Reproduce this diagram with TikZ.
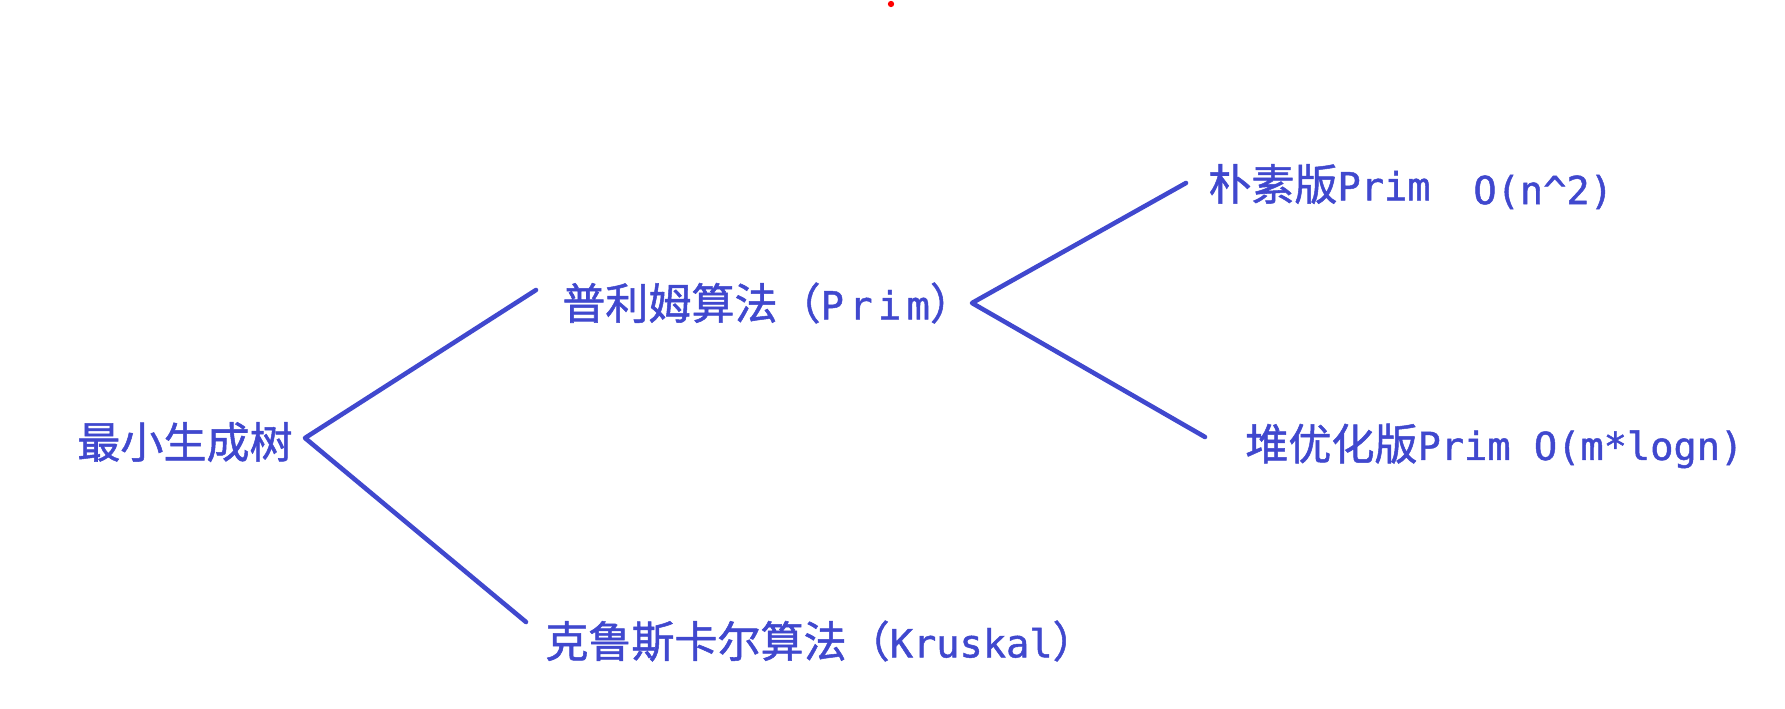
\documentclass[tikz,border=0pt]{standalone}
\usepackage{fontspec}
\usetikzlibrary{positioning}
\newfontfamily\zhfont[FakeBold=1.2]{Noto Sans CJK SC}
\newfontfamily\mstmono[FakeBold=1.2]{DejaVu Sans Mono}
\newfontfamily\mstmonowide[LetterSpace=14,FakeBold=1.2]{DejaVu Sans Mono}
\definecolor{mstblue}{RGB}{64,72,206}
\newcommand{\mstlat}[1]{{\mstmono\fontsize{22}{26}\selectfont #1}}
\newcommand{\mstlatwide}[1]{{\mstmonowide\fontsize{22}{26}\selectfont #1}}
\tikzset{
  mstlabel/.style={
    anchor=west, inner sep=0pt, text=mstblue,
    font=\zhfont\fontsize{24.5}{28}\selectfont
  },
  mstedge/.style={draw=mstblue, line width=2.6pt, line cap=round, line join=round},
  mstdot/.style={fill=red}
}
\begin{document}
\begin{tikzpicture}[x=0.02cm,y=-0.02cm]
  \useasboundingbox (0,0) rectangle (1785,709);
  \fill[mstdot] (891,4) circle[radius=1.8pt];

  % root
  \node[mstlabel] (mst) at (77,442) {最小生成树};
  \coordinate (mstfork) at (305,438);

  % first level
  \node[mstlabel] (prim) at (562,303) {普利姆算法（\mstlatwide{Prim}）};
  \node[mstlabel] (kruskal) at (545,641) {克鲁斯卡尔算法（\mstlat{Kruskal}）};
  \coordinate (primin) at (536,290);
  \coordinate (kruskalin) at (526,622);
  \coordinate (primfork) at (972,303);

  % second level
  \node[mstlabel] (naive) at (1208,184) {朴素版\mstlat{Prim}};
  \node[mstlabel] (naivecost) at (1473,192) {\mstlat{O(n\^{}2)}};
  \node[mstlabel] (heap) at (1245,446) {堆优化版\mstlat{Prim O(m*logn)}};
  \coordinate (naivein) at (1186,183);
  \coordinate (heapin) at (1205,437);

  \draw[mstedge] (primin) -- (mstfork) -- (kruskalin);
  \draw[mstedge] (naivein) -- (primfork) -- (heapin);
\end{tikzpicture}
\end{document}
